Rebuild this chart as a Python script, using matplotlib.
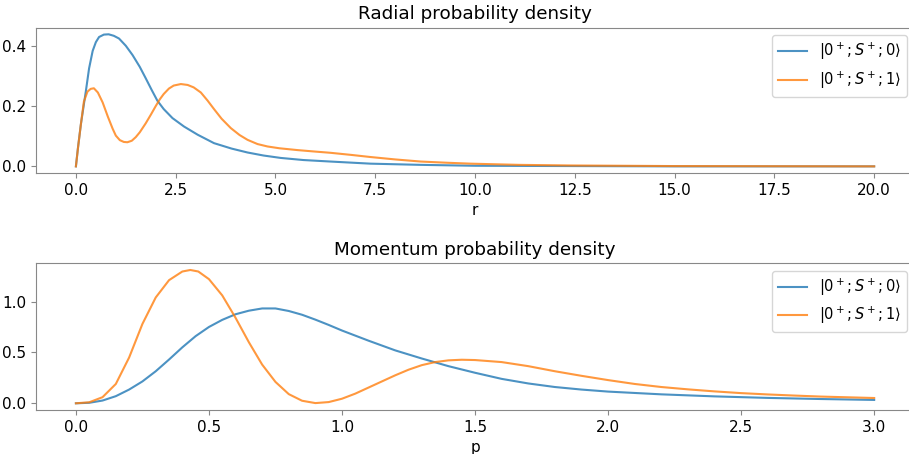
import matplotlib
matplotlib.use("Agg")
import matplotlib.pyplot as plt

# radial density
r_s0 = [0, 0.05, 0.125, 0.25, 0.33, 0.42, 0.5, 0.58, 0.7, 0.82, 0.95, 1.08, 1.25,
        1.42, 1.6, 1.75, 1.9, 2.04, 2.2, 2.42, 2.71, 3.05, 3.46, 3.9, 4.3, 4.7,
        5.13, 5.7, 6.38, 7.38, 8.64, 10.0, 12.5, 15.0, 20.0]
rho_s0 = [0, 0.06, 0.14, 0.25, 0.325, 0.383, 0.412, 0.429, 0.437, 0.438, 0.433, 0.424,
          0.40, 0.369, 0.33, 0.292, 0.253, 0.218, 0.19, 0.16, 0.132, 0.105, 0.077,
          0.059, 0.046, 0.036, 0.028, 0.021, 0.016, 0.009, 0.005, 0.002, 0.001,
          0.0, 0.0]

r_s1 = [0, 0.06, 0.125, 0.2, 0.29, 0.37, 0.45, 0.55, 0.67, 0.8, 0.92, 1.0, 1.1,
        1.2, 1.29, 1.4, 1.5, 1.6, 1.75, 1.88, 2.0, 2.1, 2.2, 2.33, 2.45, 2.63, 2.8,
        2.95, 3.13, 3.3, 3.46, 3.65, 3.88, 4.1, 4.3, 4.55, 4.8, 5.1, 5.55, 6.0,
        6.38, 6.9, 7.38, 8.0, 8.64, 9.3, 9.89, 11.1, 12.4, 15.0, 20.0]
rho_s1 = [0, 0.07, 0.14, 0.215, 0.248, 0.257, 0.259, 0.245, 0.212, 0.165, 0.125,
          0.102, 0.087, 0.081, 0.08, 0.085, 0.097, 0.113, 0.143, 0.172, 0.2, 0.222,
          0.24, 0.258, 0.268, 0.273, 0.27, 0.262, 0.245, 0.218, 0.19, 0.158, 0.127,
          0.104, 0.088, 0.074, 0.066, 0.06, 0.054, 0.049, 0.045, 0.038, 0.031,
          0.023, 0.016, 0.012, 0.009, 0.005, 0.003, 0.001, 0.0]

# momentum density
p_s0 = [0, 0.05, 0.1, 0.15, 0.2, 0.25, 0.3, 0.35, 0.4, 0.45, 0.5, 0.55, 0.6, 0.65,
        0.7, 0.75, 0.8, 0.85, 0.9, 0.95, 1.0, 1.1, 1.2, 1.3, 1.4, 1.5, 1.6, 1.7,
        1.8, 1.9, 2.0, 2.2, 2.4, 2.6, 2.8, 3.0]
phi_s0 = [0, 0.005, 0.027, 0.07, 0.135, 0.215, 0.315, 0.43, 0.55, 0.66, 0.75, 0.82,
          0.875, 0.91, 0.932, 0.932, 0.907, 0.87, 0.822, 0.77, 0.715, 0.615, 0.52,
          0.44, 0.365, 0.30, 0.24, 0.195, 0.16, 0.135, 0.115, 0.088, 0.068, 0.053,
          0.042, 0.033]

p_s1 = [0, 0.05, 0.1, 0.15, 0.2, 0.25, 0.3, 0.35, 0.4, 0.43, 0.46, 0.5, 0.55, 0.6,
        0.65, 0.7, 0.75, 0.8, 0.85, 0.9, 0.95, 1.0, 1.05, 1.1, 1.15, 1.2, 1.25,
        1.3, 1.35, 1.4, 1.45, 1.5, 1.6, 1.7, 1.8, 1.9, 2.0, 2.1, 2.2, 2.3, 2.4,
        2.5, 2.6, 2.7, 2.8, 2.9, 3.0]
phi_s1 = [0, 0.01, 0.06, 0.19, 0.45, 0.78, 1.04, 1.21, 1.295, 1.31, 1.295, 1.22,
          1.06, 0.84, 0.6, 0.38, 0.21, 0.09, 0.025, 0.002, 0.012, 0.045, 0.095,
          0.155, 0.215, 0.275, 0.33, 0.375, 0.405, 0.422, 0.428, 0.425, 0.405,
          0.365, 0.315, 0.27, 0.228, 0.19, 0.16, 0.137, 0.117, 0.1, 0.087, 0.076,
          0.066, 0.059, 0.052]

labels = [r"$|0^+;S^+;0\rangle$", r"$|0^+;S^+;1\rangle$"]

plt.rcParams["font.size"] = 11

fig = plt.figure(figsize=(9.09, 4.54), dpi=100)
ax1 = fig.add_axes([0.0396, 0.619, 0.966, 0.320])
ax2 = fig.add_axes([0.0396, 0.097, 0.966, 0.323])

ax1.plot(r_s0, rho_s0, color="tab:blue", alpha=0.8, label=labels[0])
ax1.plot(r_s1, rho_s1, color="tab:orange", alpha=0.8, label=labels[1])
ax1.set_title("Radial probability density")
ax1.set_xlabel("r")
ax1.set_xticks([0, 2.5, 5, 7.5, 10, 12.5, 15, 17.5, 20])
ax1.set_yticks([0, 0.2, 0.4])

ax2.plot(p_s0, phi_s0, color="tab:blue", alpha=0.8, label=labels[0])
ax2.plot(p_s1, phi_s1, color="tab:orange", alpha=0.8, label=labels[1])
ax2.set_title("Momentum probability density")
ax2.set_xlabel("p")
ax2.set_yticks([0, 0.5, 1.0])

for ax in (ax1, ax2):
    for s in ax.spines.values():
        s.set_color("#888888")
    ax.tick_params(color="#888888")
    ax.legend(loc="upper right", fontsize=10.5)

fig.savefig("out.png", dpi=100)
